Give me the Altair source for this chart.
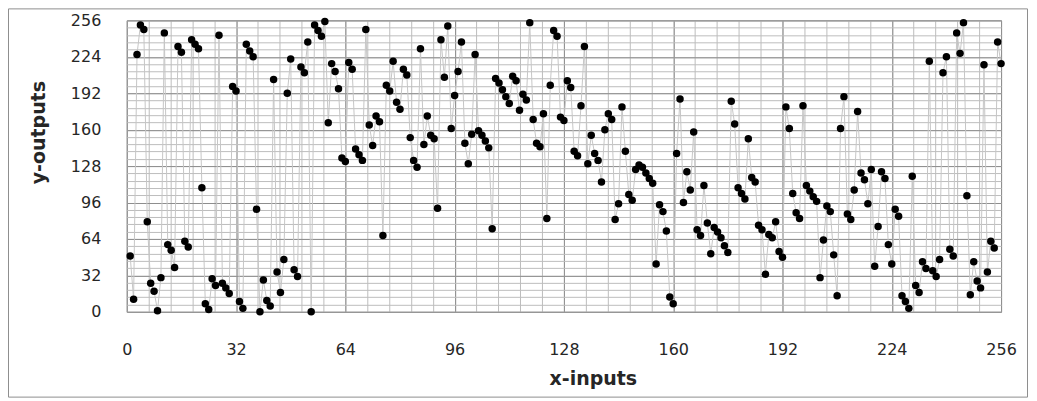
import altair as alt
import pandas as pd

x_inputs = list(range(1, 257))
y_outputs = [
    49, 11, 226, 252, 248, 79, 25, 18, 1, 30,
    245, 59, 54, 39, 233, 228, 62, 57, 239, 235,
    231, 109, 7, 2, 29, 23, 243, 25, 21, 16,
    198, 194, 9, 3, 235, 229, 224, 90, 0, 28,
    10, 5, 204, 35, 17, 46, 192, 222, 37, 31,
    215, 210, 237, 0, 252, 247, 242, 255, 166, 218,
    211, 196, 135, 132, 219, 213, 143, 138, 133, 248,
    164, 146, 172, 167, 67, 199, 194, 220, 184, 178,
    213, 208, 153, 133, 127, 231, 147, 172, 155, 152,
    91, 239, 206, 251, 161, 190, 211, 237, 148, 130,
    156, 226, 159, 155, 150, 144, 73, 205, 201, 195,
    189, 183, 207, 203, 177, 191, 186, 254, 169, 148,
    145, 174, 82, 199, 247, 242, 171, 168, 203, 197,
    141, 137, 181, 233, 130, 155, 139, 133, 114, 160,
    174, 169, 81, 95, 180, 141, 103, 98, 125, 129,
    127, 122, 117, 113, 42, 94, 88, 71, 13, 7,
    139, 187, 96, 123, 107, 158, 72, 67, 111, 78,
    51, 74, 70, 65, 58, 52, 185, 165, 109, 104,
    99, 152, 118, 114, 76, 72, 33, 68, 65, 79,
    53, 48, 180, 161, 104, 87, 82, 181, 111, 106,
    101, 97, 30, 63, 93, 88, 50, 14, 161, 189,
    86, 81, 107, 176, 122, 116, 95, 125, 40, 75,
    123, 117, 59, 42, 90, 84, 14, 9, 3, 119,
    23, 17, 44, 38, 220, 36, 31, 46, 210, 224,
    55, 49, 245, 227, 254, 102, 15, 44, 27, 21,
    217, 35, 62, 56, 237, 218,
]
major_ticks = [0, 32, 64, 96, 128, 160, 192, 224, 256]

df = pd.DataFrame({"x": x_inputs, "y": y_outputs})

W, H = 876, 292
minor_ticks = [round(i * 6.4, 1) for i in range(41)]

xs = alt.Scale(domain=[0, 256], nice=False, zero=False)
ys = alt.Scale(domain=[0, 256], nice=False, zero=False)

FONT = "DejaVu Sans"
TXT = "#262626"

base = alt.Chart(df)

minor_layer = base.mark_point(opacity=0).encode(
    x=alt.X("x:Q", scale=xs, axis=alt.Axis(values=minor_ticks, grid=True, gridColor="#bdbdbd",
                                            gridWidth=1, labels=False, ticks=False, domain=False,
                                            title=None, orient="top")),
    y=alt.Y("y:Q", scale=ys, axis=alt.Axis(values=minor_ticks, grid=True, gridColor="#bdbdbd",
                                            gridWidth=1, labels=False, ticks=False, domain=False,
                                            title=None, orient="right")),
)

line_layer = base.mark_line(color="#c6c6c6", strokeWidth=1).encode(
    x=alt.X("x:Q", scale=xs, axis=alt.Axis(
        values=major_ticks, grid=True, gridColor="#8e8e8e", gridWidth=1,
        ticks=False, tickSize=0, domain=False, orient="bottom",
        labelFont=FONT, labelFontSize=16, labelColor=TXT, labelPadding=30,
        labelFlush=False, labelOverlap=False, labelBound=False,
        title="x-inputs", titleFont=FONT, titleFontSize=19, titleFontWeight="bold",
        titleColor=TXT, titleX=467, titleY=67, titleAlign="center",
        titleBaseline="middle", titleAngle=0)),
    y=alt.Y("y:Q", scale=ys, axis=alt.Axis(
        values=major_ticks, grid=True, gridColor="#8e8e8e", gridWidth=1,
        ticks=False, tickSize=0, domain=False, orient="left",
        labelFont=FONT, labelFontSize=16, labelColor=TXT, labelPadding=26,
        labelFlush=False, labelOverlap=False, labelBound=False,
        title="y-outputs", titleFont=FONT, titleFontSize=19, titleFontWeight="bold",
        titleColor=TXT, titleX=-88, titleY=112, titleAlign="center",
        titleBaseline="middle", titleAngle=270)),
    order="x:Q",
)

point_layer = base.mark_circle(color="#000000", size=56, opacity=1).encode(
    x=alt.X("x:Q", scale=xs, axis=None),
    y=alt.Y("y:Q", scale=ys, axis=None),
)

frame = alt.Chart(pd.DataFrame({"f": [0]})).mark_rect(
    fillOpacity=0, stroke="#8e8e8e", strokeWidth=1
).encode(
    x=alt.value(-118.5), x2=alt.value(902.5), y=alt.value(-11.5), y2=alt.value(377.5)
)

chart = alt.layer(frame, minor_layer, line_layer, point_layer).resolve_axis(
    x="independent", y="independent"
).properties(
    width=W, height=H,
    autosize=alt.AutoSizeParams(type="none"),
    padding={"left": 119, "top": 12, "right": 28, "bottom": 88},
    background="white",
).configure_view(stroke="#8e8e8e", strokeWidth=1)

chart.save("out.html", embed_options={"renderer": "svg", "actions": False})
